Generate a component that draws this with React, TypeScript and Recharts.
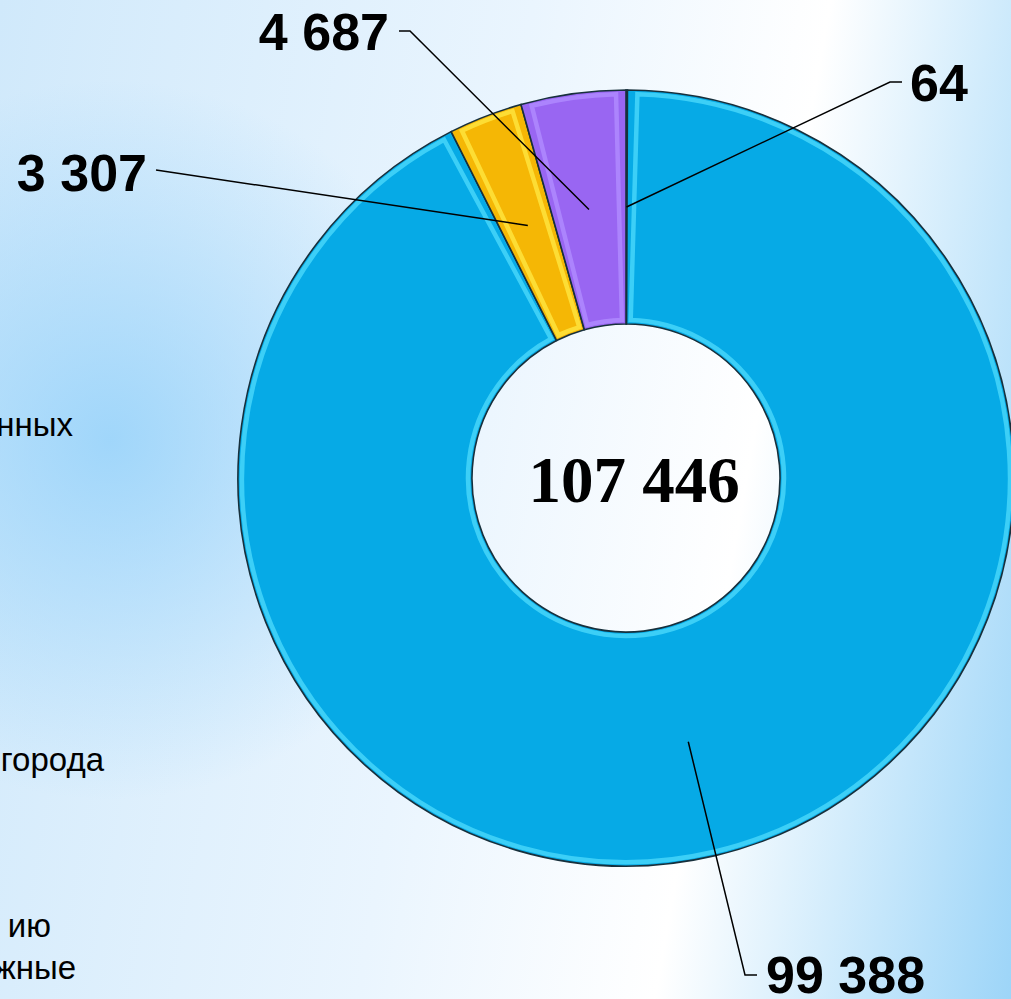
import { PieChart, Pie, Cell, Sector } from "recharts";

const values = [64, 99388, 3307, 4687];
const valueLabels = ["64", "99 388", "3 307", "4 687"];
const total = "107 446";

const fills = ["#1f4444", "#06aae6", "#f5b705", "#9966f2"];
const glints = ["#1f4444", "#4ad8fb", "#ffe640", "#b08cff"];

// cut-off legend text at the left edge
const legendBits = ["нных", "города", "ию", "жные"];
const legendEnds = [
  { x: 73, y: 436 },
  { x: 104, y: 771 },
  { x: 51, y: 937 },
  { x: 76, y: 979 },
];

const data = values.map((v, i) => ({ name: valueLabels[i], value: v }));

// where each callout was dragged to
const callouts = [
  { bend: [890, 82], end: [902, 82], tx: 910, ty: 101, anchor: "start" },
  { bend: [745, 975], end: [757, 975], tx: 766, ty: 993, anchor: "start" },
  { bend: null, end: [156, 170], tx: 147, ty: 191, anchor: "end" },
  { bend: [410, 31], end: [399, 31], tx: 389, ty: 50, anchor: "end" },
];

const RAD = Math.PI / 180;

const renderShape = (props: any) => {
  const { cx, cy, innerRadius, outerRadius, startAngle, endAngle, index } = props;
  const d = (4 / innerRadius) / RAD;
  const span = Math.abs(startAngle - endAngle);
  const dir = startAngle > endAngle ? 1 : -1;
  return (
    <g>
      <Sector
        cx={cx}
        cy={cy}
        innerRadius={innerRadius}
        outerRadius={outerRadius}
        startAngle={startAngle}
        endAngle={endAngle}
        fill={fills[index]}
        stroke="#17303c"
        strokeWidth={1.6}
      />
      {span > 3 * d && (
        <Sector
          cx={cx}
          cy={cy}
          innerRadius={innerRadius + 4}
          outerRadius={outerRadius - 4}
          startAngle={startAngle - dir * d}
          endAngle={endAngle + dir * d}
          fill="none"
          stroke={glints[index]}
          strokeWidth={4.5}
          strokeOpacity={0.8}
        />
      )}
    </g>
  );
};

const renderLabel = (props: any) => {
  const { cx, cy, midAngle, innerRadius, outerRadius, index } = props;
  const r = (innerRadius + outerRadius) / 2;
  const sx = cx + r * Math.cos(-midAngle * RAD);
  const sy = cy + r * Math.sin(-midAngle * RAD);
  const c = callouts[index];
  const pts = [[sx, sy]];
  if (c.bend) pts.push(c.bend);
  pts.push(c.end);
  return (
    <g key={"lbl" + index}>
      <polyline
        points={pts.map((p) => p.join(",")).join(" ")}
        fill="none"
        stroke="#000"
        strokeWidth={1.5}
      />
      <text
        x={c.tx}
        y={c.ty}
        textAnchor={c.anchor as any}
        fontFamily="'Liberation Sans', Arial, sans-serif"
        fontWeight="bold"
        fontSize={52}
        fill="#000"
      >
        {valueLabels[index]}
      </text>
    </g>
  );
};

export default function App() {
  return (
    <div
      style={{
        position: "absolute",
        left: 0,
        top: 0,
        width: 1011,
        height: 999,
        overflow: "hidden",
        background:
          "radial-gradient(circle at 110px 440px, rgba(150,210,250,0.85) 0px, rgba(150,210,250,0) 360px), linear-gradient(100deg, #d0e9fb 0%, #eaf5fe 45%, #ffffff 70%, #c4e6fb 88%, #9dd5f8 100%)",
      }}
    >
      <PieChart width={1011} height={999} margin={{ top: 0, right: 0, bottom: 0, left: 0 }}>
        <Pie
          data={data}
          dataKey="value"
          cx={626}
          cy={478}
          innerRadius={154}
          outerRadius={388}
          startAngle={90}
          endAngle={-270}
          stroke="#17303c"
          strokeWidth={1.6}
          shape={renderShape}
          label={renderLabel}
          labelLine={false}
          isAnimationActive={false}
        >
          {data.map((d, i) => (
            <Cell key={d.name} fill={fills[i]} />
          ))}
        </Pie>
        <text
          x={634}
          y={502}
          textAnchor="middle"
          fontFamily="'Liberation Serif', 'Times New Roman', serif"
          fontWeight="bold"
          fontSize={65}
          fill="#000"
        >
          {total}
        </text>
        {legendBits.map((t, i) => (
          <text
            key={t}
            x={legendEnds[i].x}
            y={legendEnds[i].y}
            textAnchor="end"
            fontFamily="'Liberation Sans', Arial, sans-serif"
            fontSize={33}
            fill="#000"
          >
            {t}
          </text>
        ))}
      </PieChart>
    </div>
  );
}
